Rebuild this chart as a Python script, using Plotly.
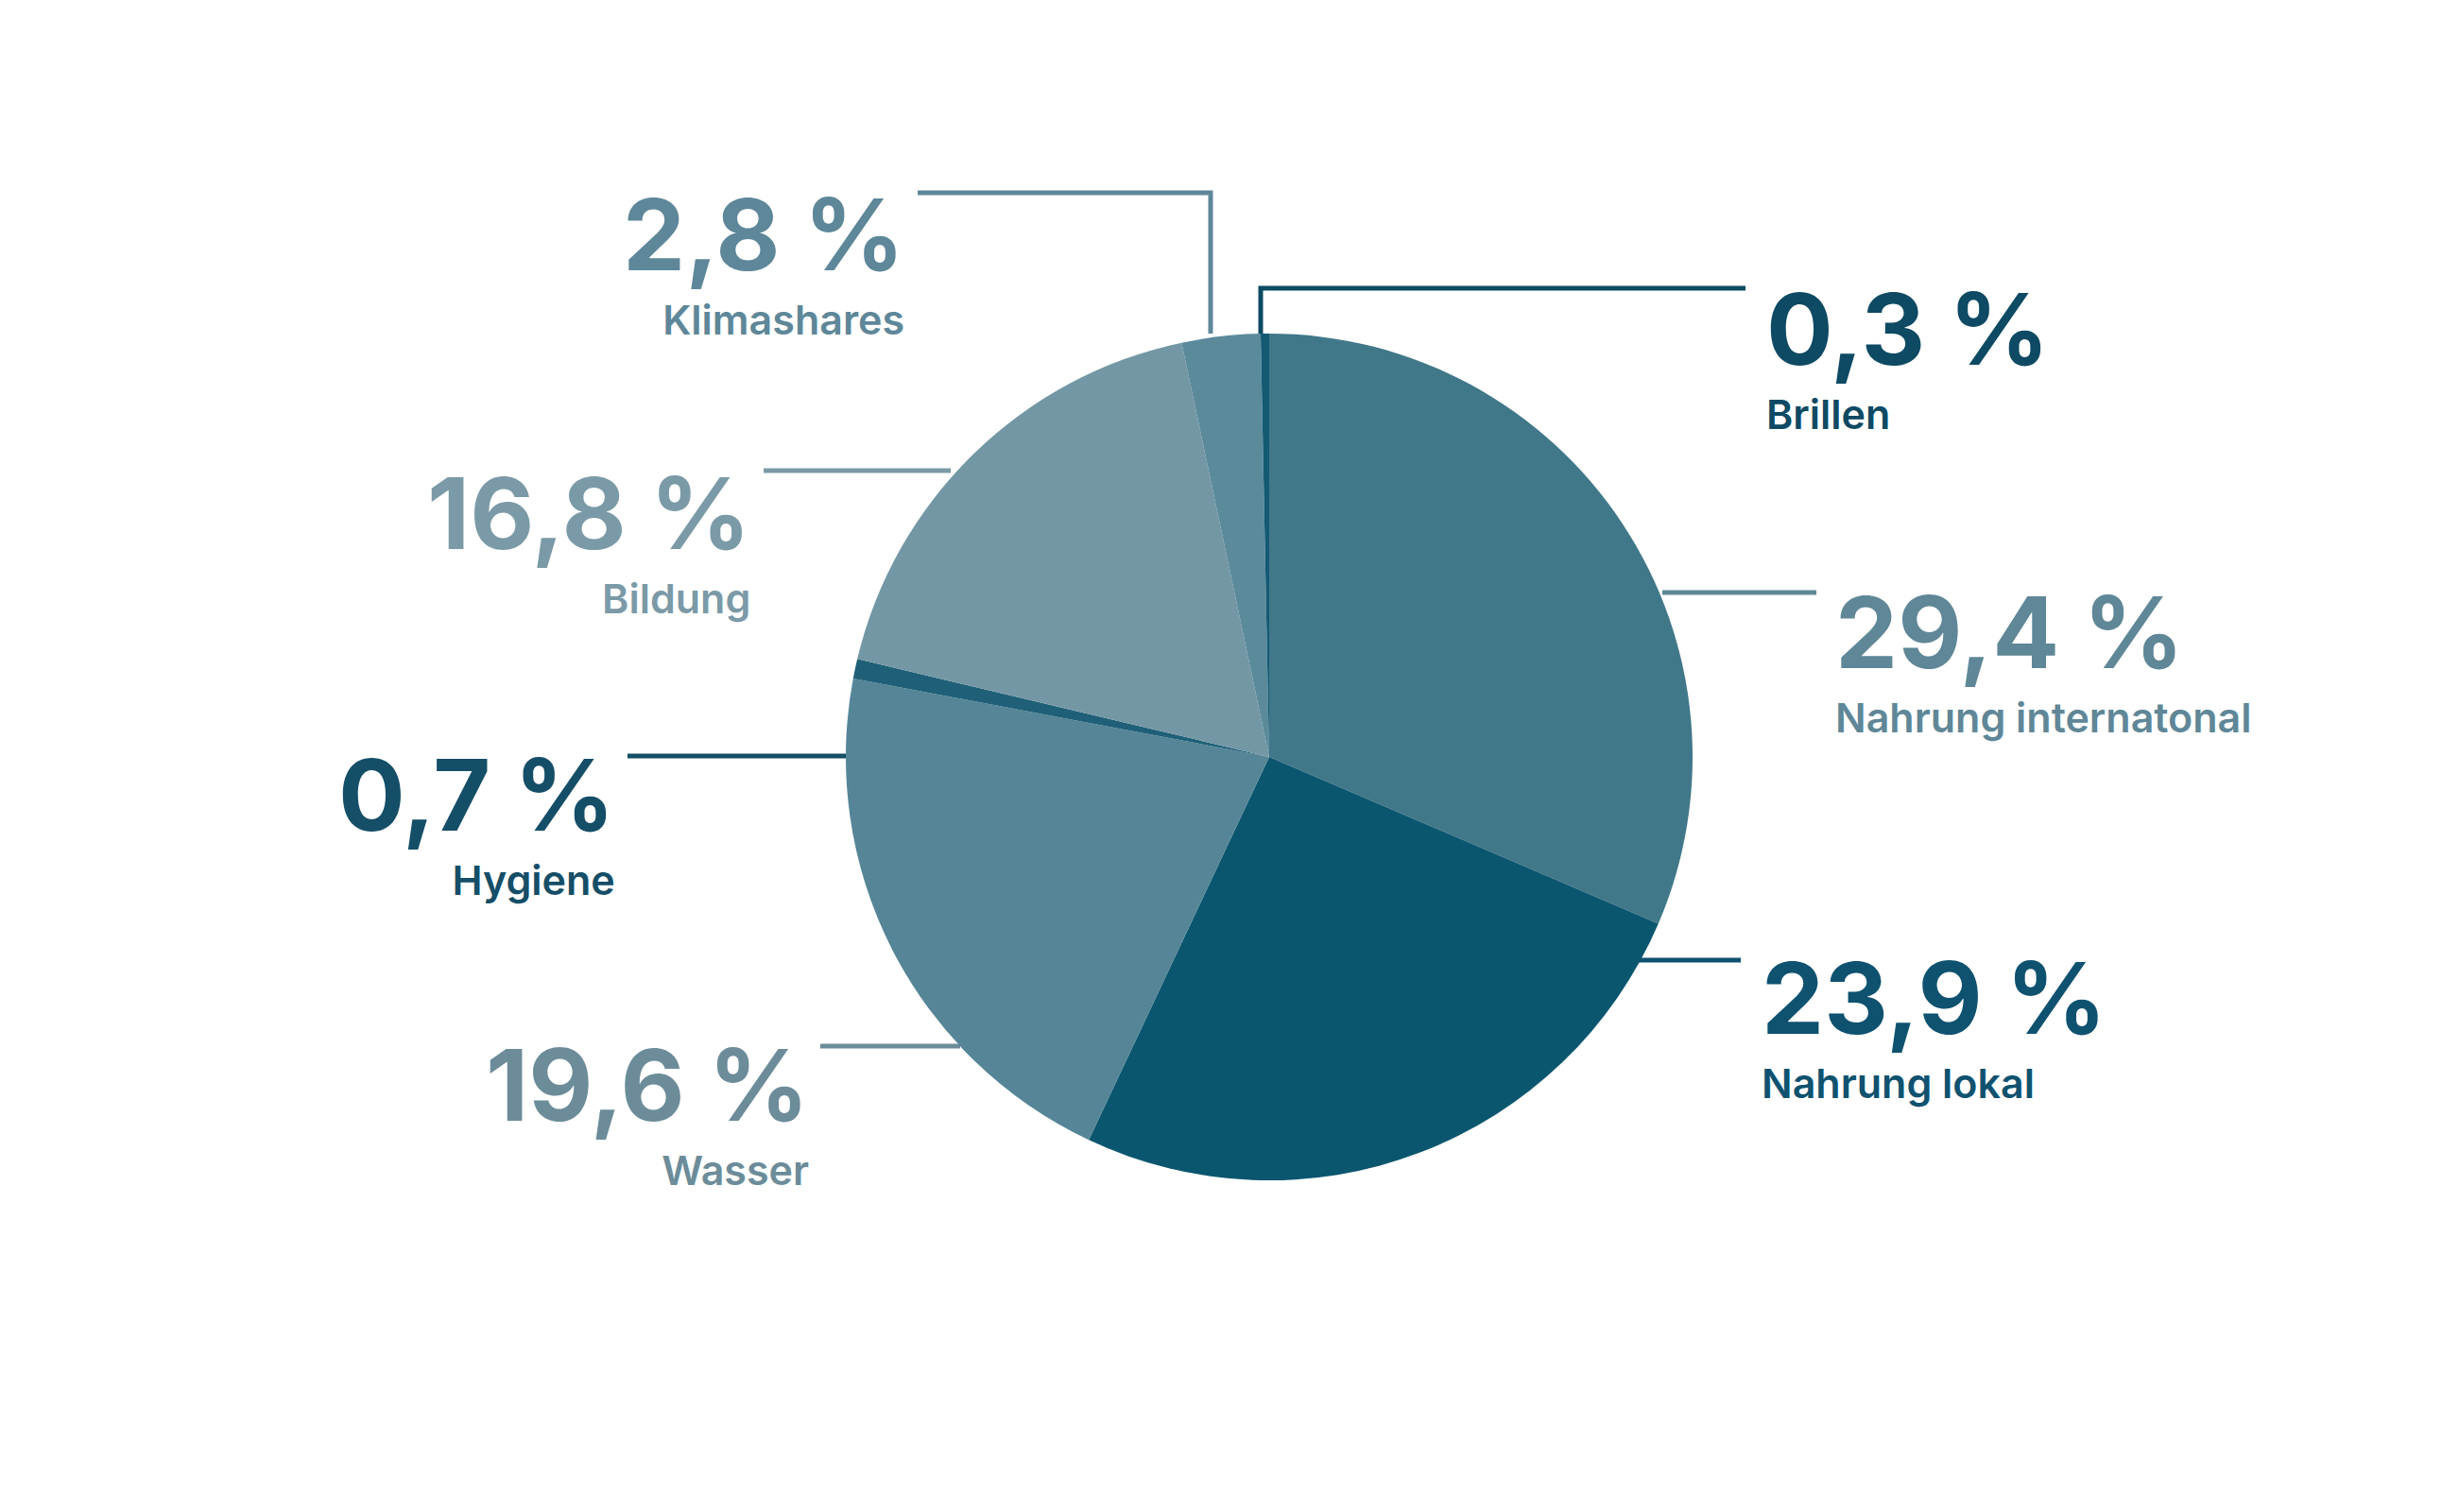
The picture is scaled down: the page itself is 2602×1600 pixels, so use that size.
import plotly.graph_objects as go

# Spendenverteilung (Anteile in %)
categories = ["Nahrung internatonal", "Nahrung lokal", "Wasser", "Hygiene",
              "Bildung", "Klimashares", "Brillen"]
values = [29.4, 23.9, 19.6, 0.7, 16.8, 2.8, 0.3]

slice_colors = ["#417889", "#0b566f", "#558597", "#1f6078",
                "#7397a4", "#5b8a9b", "#145a74"]
text_colors = ["#5f8797", "#0f5270", "#6c8c9a", "#154e67",
               "#7b9aa7", "#5e8799", "#0e4a63"]

W, H = 2602, 1600
OFF = 8          # page body margin
FONT = "Inter"
NUM_SIZE = 105
LAB_SIZE = 43
S = 1.6594       # reference screenshot scale


def px(x):
    return (x - OFF) / W


def py(y):
    return 1 - (y - OFF) / H


# label layout: (anchor x px, number cap-centre y in ref units, side)
label_pos = {
    "Nahrung internatonal": (1941, 404, "left"),
    "Nahrung lokal": (1863, 637.5, "left"),
    "Wasser": (857, 693, "right"),
    "Hygiene": (652, 508, "right"),
    "Bildung": (795, 328, "right"),
    "Klimashares": (958, 150.5, "right"),
    "Brillen": (1868, 210.5, "left"),
}

# leader lines in pixels
leader = {
    "Nahrung internatonal": [(1759, 627), (1922, 627)],
    "Nahrung lokal": [(1734, 1016), (1842, 1016)],
    "Wasser": [(868, 1107), (1016, 1107)],
    "Hygiene": [(664, 800), (896, 800)],
    "Bildung": [(808, 498), (1006, 498)],
    "Klimashares": [(971, 204), (1281, 204), (1281, 353)],
    "Brillen": [(1334, 353), (1334, 305), (1847, 305)],
}

cx, cy, r = 1343, 801, 448

fig = go.Figure(go.Pie(
    labels=categories,
    values=values,
    sort=False,
    direction="clockwise",
    rotation=0,
    marker=dict(colors=slice_colors, line=dict(width=0)),
    textinfo="none",
    hoverinfo="label+value",
    showlegend=False,
    domain=dict(x=[px(cx - r), px(cx + r)], y=[py(cy + r), py(cy - r)]),
))

base = 52
for cat, val, col in zip(categories, values, text_colors):
    ax, ncap, side = label_pos[cat]
    num = f"{val:.1f}".replace(".", ",") + " %"
    baseline = ncap * S + 0.727 * NUM_SIZE / 2 - 2
    top = baseline - 0.969 * NUM_SIZE
    bottom = baseline + 1.3 * base + 0.242 * LAB_SIZE
    txt = (f"<span style='font-size:{NUM_SIZE}px;font-weight:700'>{num}</span>"
           f"<br><span style='font-size:{LAB_SIZE}px'>{cat}</span>")
    fig.add_annotation(x=px(ax), y=py((top + bottom) / 2), xref="paper", yref="paper",
                       text=txt, showarrow=False, xanchor=side, yanchor="middle",
                       align=side, borderpad=0,
                       font=dict(family=FONT, size=base, color=col, weight=600))
    pts = leader[cat]
    path = "M " + " L ".join(f"{px(x)},{py(y)}" for x, y in pts)
    fig.add_shape(type="path", path=path, xref="paper", yref="paper",
                  line=dict(color=col, width=5), layer="below")

fig.update_layout(
    width=W, height=H,
    margin=dict(l=0, r=0, t=0, b=0),
    paper_bgcolor="#ffffff",
    plot_bgcolor="#ffffff",
    font=dict(family=FONT),
)

fig.write_html("out.html")
